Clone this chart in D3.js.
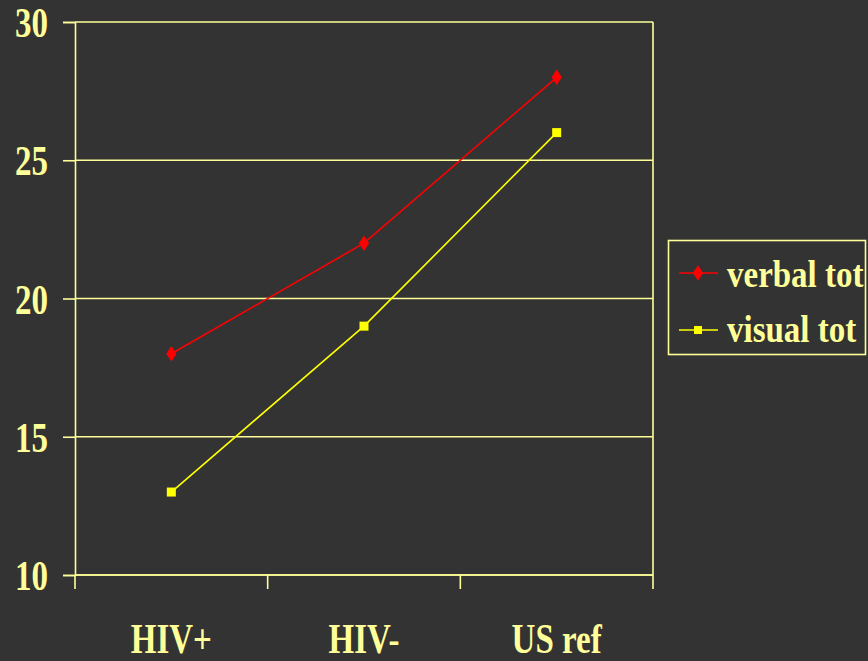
<!DOCTYPE html>
<html>
<head>
<meta charset="utf-8">
<script src="https://cdn.jsdelivr.net/npm/d3@7"></script>
<style>
  html, body { margin: 0; padding: 0; background: #333333; }
  svg { display: block; }
  text { font-family: "Liberation Serif", "Times New Roman", serif; font-weight: bold; fill: #FFFF99; }
</style>
</head>
<body>
<svg id="chart" width="868" height="661"></svg>
<script>
// Scores by group
const categories = ["HIV+", "HIV-", "US ref"];
const verbalTot = [18, 22, 28];
const visualTot = [13, 19, 26];
const yTicks = [10, 15, 20, 25, 30];
const seriesNames = ["verbal tot", "visual tot"];

const W = 868, H = 661;
const plot = { left: 75, right: 653, top: 22, bottom: 575 };
const ink = "#FFFF99";
const stretch = 1.25;   // tall, narrow lettering

const svg = d3.select("#chart");
svg.append("rect").attr("width", W).attr("height", H).attr("fill", "#333333");

const x = d3.scaleBand().domain(categories).range([plot.left, plot.right]).padding(0);
const y = d3.scaleLinear().domain([10, 30]).range([plot.bottom, plot.top]);

// Horizontal gridlines
svg.append("g").selectAll("line").data(yTicks).join("line")
  .attr("x1", plot.left).attr("x2", plot.right)
  .attr("y1", d => y(d)).attr("y2", d => y(d))
  .attr("stroke", ink).attr("stroke-width", 1.6);

// Right border of plot area
svg.append("line")
  .attr("x1", plot.right).attr("x2", plot.right)
  .attr("y1", plot.top).attr("y2", plot.bottom)
  .attr("stroke", ink).attr("stroke-width", 1.6);

// Y axis
const yAxis = svg.append("g")
  .attr("transform", `translate(${plot.left},0)`)
  .call(d3.axisLeft(y).tickValues(yTicks).tickSize(12).tickFormat(""));
yAxis.select(".domain").attr("stroke", ink).attr("stroke-width", 1.6);
yAxis.selectAll(".tick line").attr("stroke", ink).attr("stroke-width", 1.6);

svg.append("g").selectAll("text").data(yTicks).join("text")
  .attr("transform", d => `translate(48,${y(d) + 15}) scale(1,${stretch})`)
  .attr("text-anchor", "end")
  .attr("font-size", 33)
  .text(d => d);

// X axis with ticks on category boundaries
svg.append("line")
  .attr("x1", plot.left).attr("x2", plot.right)
  .attr("y1", plot.bottom).attr("y2", plot.bottom)
  .attr("stroke", ink).attr("stroke-width", 1.6);
const bounds = categories.map(c => x(c)).concat([x(categories[categories.length - 1]) + x.bandwidth()]);
svg.append("g").selectAll("line").data(bounds).join("line")
  .attr("x1", d => d).attr("x2", d => d)
  .attr("y1", plot.bottom).attr("y2", plot.bottom + 14)
  .attr("stroke", ink).attr("stroke-width", 1.6);

svg.append("g").selectAll("text").data(categories).join("text")
  .attr("transform", d => `translate(${x(d) + x.bandwidth() / 2},653) scale(1,${stretch})`)
  .attr("text-anchor", "middle")
  .attr("font-size", 33)
  .text(d => d);

// Series lines and markers
const cx = c => x(c) + x.bandwidth() / 2;
const line = d3.line().x(d => cx(d.c)).y(d => y(d.v));
const verbalPts = categories.map((c, i) => ({ c, v: verbalTot[i] }));
const visualPts = categories.map((c, i) => ({ c, v: visualTot[i] }));

svg.append("path").datum(verbalPts).attr("d", line)
  .attr("fill", "none").attr("stroke", "#FF0000").attr("stroke-width", 1.6);
svg.append("path").datum(visualPts).attr("d", line)
  .attr("fill", "none").attr("stroke", "#FFFF00").attr("stroke-width", 1.6);

const diamond = d3.symbol().type(d3.symbolDiamond).size(70);
svg.append("g").selectAll("path").data(verbalPts).join("path")
  .attr("d", diamond)
  .attr("transform", d => `translate(${cx(d.c)},${y(d.v)}) scale(1.15,1)`)
  .attr("fill", "#FF0000");
svg.append("g").selectAll("rect").data(visualPts).join("rect")
  .attr("x", d => cx(d.c) - 4.5).attr("y", d => y(d.v) - 4.5)
  .attr("width", 9).attr("height", 9)
  .attr("fill", "#FFFF00");

// Legend
const lg = svg.append("g");
lg.append("rect").attr("x", 668.5).attr("y", 240.5).attr("width", 197).attr("height", 114)
  .attr("fill", "none").attr("stroke", ink).attr("stroke-width", 1.6);
const legendItems = [
  { name: seriesNames[0], color: "#FF0000", shape: "diamond", ly: 273, ty: 287 },
  { name: seriesNames[1], color: "#FFFF00", shape: "square", ly: 330, ty: 342 }
];
legendItems.forEach(it => {
  lg.append("line").attr("x1", 679).attr("x2", 718).attr("y1", it.ly).attr("y2", it.ly)
    .attr("stroke", it.color).attr("stroke-width", 1.6);
  if (it.shape === "diamond") {
    lg.append("path").attr("d", diamond)
      .attr("transform", `translate(698,${it.ly}) scale(1.15,1)`).attr("fill", it.color);
  } else {
    lg.append("rect").attr("x", 694).attr("y", it.ly - 4).attr("width", 8).attr("height", 8)
      .attr("fill", it.color);
  }
  lg.append("text")
    .attr("transform", `translate(727,${it.ty}) scale(1,${1.15})`)
    .attr("font-size", 33)
    .text(it.name);
});
</script>
</body>
</html>
